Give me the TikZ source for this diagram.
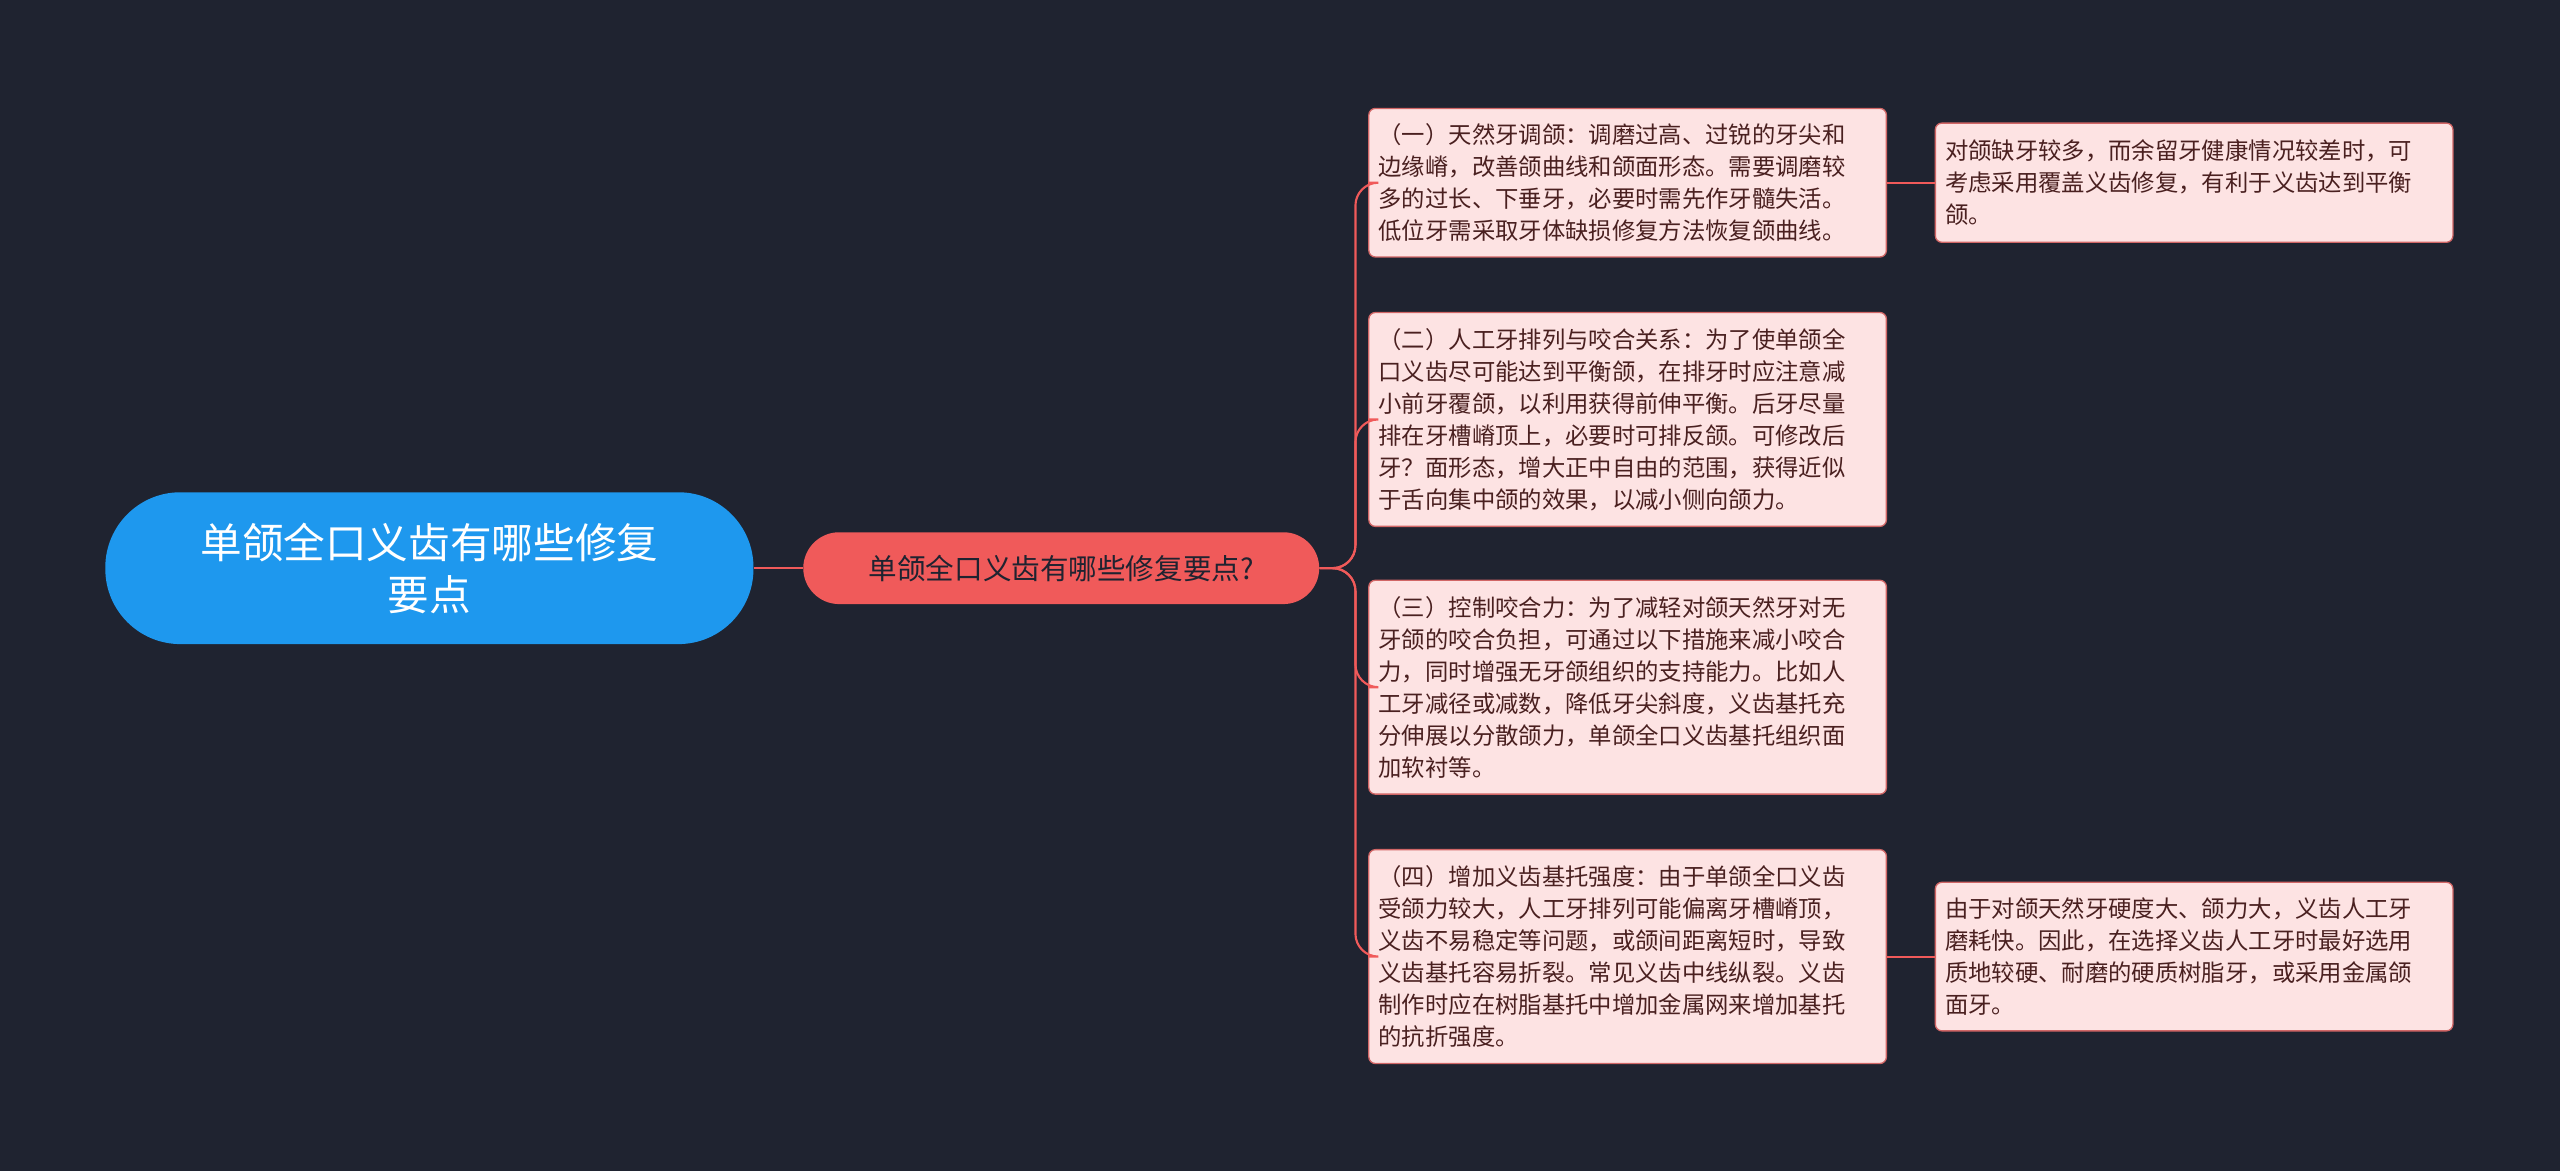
\documentclass[tikz,border=0pt]{standalone}
\usepackage{fontspec}
\setmainfont{Noto Sans CJK SC}
\begin{document}
\begin{tikzpicture}[x=1pt,y=-1pt,
 leaf/.style={draw=red!70!black!60, fill=pink0, rounded corners=4, line width=0.8, text=txt, font=\fontsize{14.3}{19.6}\selectfont, align=left, inner xsep=6, inner ysep=4, anchor=north west},
 conn/.style={draw=lred, line width=1.3},
]
\definecolor{bg}{HTML}{1F2330}
\definecolor{pink0}{HTML}{FDE3E3}
\definecolor{txt}{HTML}{4A2020}
\definecolor{lred}{HTML}{F05A5A}
\definecolor{blue0}{HTML}{1E98EE}
\useasboundingbox (0,0) rectangle (1568,717);
\fill[bg] (0,0) rectangle (1568,717);
\node[fill=blue0, rounded corners=46, minimum width=397, minimum height=93, text=white, align=center, font=\fontsize{25.5}{32}\selectfont] (root) at (263,348) {单颌全口义齿有哪些修复\\要点};
\node[fill=lred, rounded corners=22, minimum width=316, minimum height=44, text=bg, font=\fontsize{17.5}{20}\selectfont] (mid) at (650,348) {单颌全口义齿有哪些修复要点?};
\node[leaf, text width=305, minimum height=91] (l1) at (838,66) {（一）天然牙调颌：调磨过高、过锐的牙尖和\\边缘嵴，改善颌曲线和颌面形态。需要调磨较\\多的过长、下垂牙，必要时需先作牙髓失活。\\低位牙需采取牙体缺损修复方法恢复颌曲线。};
\node[leaf, text width=305, minimum height=131] (l2) at (838,191) {（二）人工牙排列与咬合关系：为了使单颌全\\口义齿尽可能达到平衡颌，在排牙时应注意减\\小前牙覆颌，以利用获得前伸平衡。后牙尽量\\排在牙槽嵴顶上，必要时可排反颌。可修改后\\牙？面形态，增大正中自由的范围，获得近似\\于舌向集中颌的效果，以减小侧向颌力。};
\node[leaf, text width=305, minimum height=131] (l3) at (838,355) {（三）控制咬合力：为了减轻对颌天然牙对无\\牙颌的咬合负担，可通过以下措施来减小咬合\\力，同时增强无牙颌组织的支持能力。比如人\\工牙减径或减数，降低牙尖斜度，义齿基托充\\分伸展以分散颌力，单颌全口义齿基托组织面\\加软衬等。};
\node[leaf, text width=305, minimum height=131] (l4) at (838,520) {（四）增加义齿基托强度：由于单颌全口义齿\\受颌力较大，人工牙排列可能偏离牙槽嵴顶，\\义齿不易稳定等问题，或颌间距离短时，导致\\义齿基托容易折裂。常见义齿中线纵裂。义齿\\制作时应在树脂基托中增加金属网来增加基托\\的抗折强度。};
\node[leaf, text width=305, minimum height=73] (r1) at (1185,75) {对颌缺牙较多，而余留牙健康情况较差时，可\\考虑采用覆盖义齿修复，有利于义齿达到平衡\\颌。};
\node[leaf, text width=305, minimum height=91] (r2) at (1185,540) {由于对颌天然牙硬度大、颌力大，义齿人工牙\\磨耗快。因此，在选择义齿人工牙时最好选用\\质地较硬、耐磨的硬质树脂牙，或采用金属颌\\面牙。};
\draw[conn] (root.east) -- (mid.west);
\foreach \l in {l1,l2,l3,l4}
  \draw[conn, rounded corners=14] (mid.east) -- ++(22,0) |- (\l.west);
\draw[conn] (l1.east) -- (r1.west);
\draw[conn] (l4.east) -- (r2.west);
\end{tikzpicture}
\end{document}
